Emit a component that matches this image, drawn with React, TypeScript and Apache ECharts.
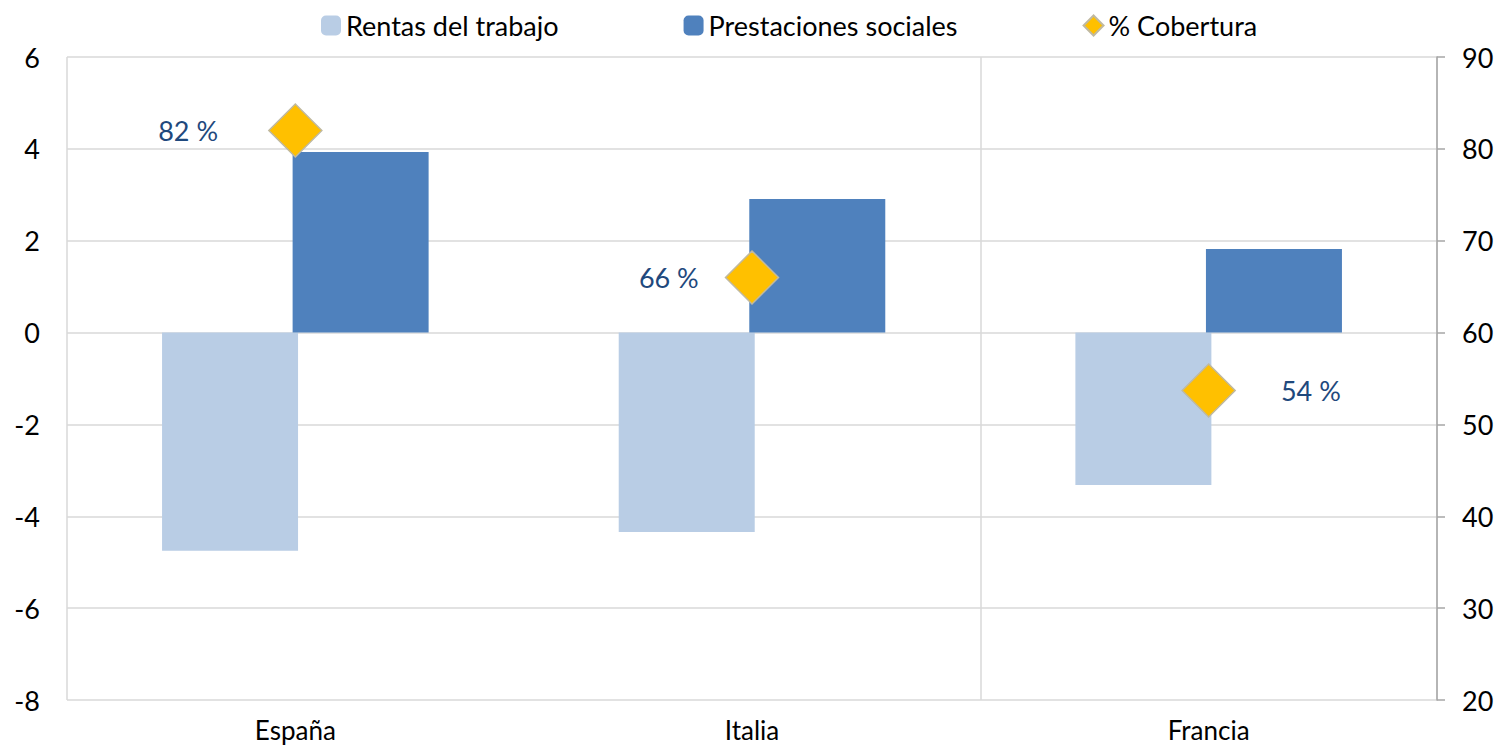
import React, { useEffect, useRef } from "react";
import * as echarts from "echarts";

const categories = ["España", "Italia", "Francia"];
const rentasTrabajo = [-4.75, -4.34, -3.32];
const prestacionesSociales = [3.93, 2.91, 1.82];
const cobertura = [82, 66, 53.7];
const leftTicks = { min: -8, max: 6, interval: 2 };
const rightTicks = { min: 20, max: 90, interval: 10 };

const FONT = "Lato";
const FS = 27;

export default function App() {
  const ref = useRef<HTMLDivElement>(null);
  useEffect(() => {
    document.body.style.margin = "0";
    if (!ref.current) return;
    const chart = echarts.init(ref.current, undefined, { renderer: "svg" });
    const labelPlacement = [
      { position: "left", distance: 50 },
      { position: "left", distance: 26 },
      { position: "right", distance: 45 },
    ];
    chart.setOption({
      animation: false,
      textStyle: { fontFamily: FONT },
      legend: {
        top: 7,
        left: 316,
        itemGap: 125,
        itemWidth: 20,
        itemHeight: 20,
        textStyle: { fontSize: FS, color: "#000", fontFamily: FONT },
        data: [
          { name: "Rentas del trabajo", icon: "roundRect" },
          { name: "Prestaciones sociales", icon: "roundRect" },
          { name: "% Cobertura", icon: "diamond" },
        ],
      },
      grid: { left: 67, right: 69, top: 57, bottom: 52 },
      xAxis: {
        type: "category",
        data: categories,
        axisLine: { show: false },
        axisTick: { show: false },
        axisLabel: { fontSize: 26, lineHeight: 26, color: "#000", margin: 17, fontFamily: FONT },
        splitLine: {
          show: true,
          interval: (i: number) => i === 0 || i === 2,
          lineStyle: { color: "#D9D9D9", width: 1.5 },
        },
      },
      yAxis: [
        {
          type: "value",
          min: leftTicks.min,
          max: leftTicks.max,
          interval: leftTicks.interval,
          axisLine: { show: false },
          axisTick: { show: false },
          axisLabel: { fontSize: FS, color: "#000", margin: 27, fontFamily: FONT },
          splitLine: { lineStyle: { color: "#D9D9D9", width: 1.5 } },
        },
        {
          type: "value",
          min: rightTicks.min,
          max: rightTicks.max,
          interval: rightTicks.interval,
          position: "right",
          axisLine: { show: true, lineStyle: { color: "#A6A6A6", width: 1.5 } },
          axisTick: { show: true, length: 8, lineStyle: { color: "#A6A6A6", width: 1.5 } },
          axisLabel: { fontSize: FS, color: "#000", margin: 25, fontFamily: FONT },
          splitLine: { show: false },
        },
      ],
      series: [
        {
          name: "Rentas del trabajo",
          type: "bar",
          data: rentasTrabajo,
          barWidth: 136,
          barGap: "-4%",
          itemStyle: { color: "#B9CDE5" },
        },
        {
          name: "Prestaciones sociales",
          type: "bar",
          data: prestacionesSociales,
          barWidth: 136,
          itemStyle: { color: "#4F81BD" },
        },
        {
          name: "% Cobertura",
          type: "scatter",
          yAxisIndex: 1,
          symbol: "diamond",
          symbolSize: 53,
          z: 5,
          itemStyle: { color: "#FFC000", borderColor: "#C0B9A0", borderWidth: 1.5, opacity: 1 },
          data: cobertura.map((v, i) => ({
            value: v,
            label: {
              show: true,
              position: labelPlacement[i].position,
              distance: labelPlacement[i].distance,
              formatter: () => `${Math.round(v)} %`,
              fontSize: FS,
              color: "#1F497D",
              fontFamily: FONT,
            },
          })),
        },
      ],
    });
    return () => chart.dispose();
  }, []);
  return <div ref={ref} style={{ width: 1506, height: 752 }} />;
}
